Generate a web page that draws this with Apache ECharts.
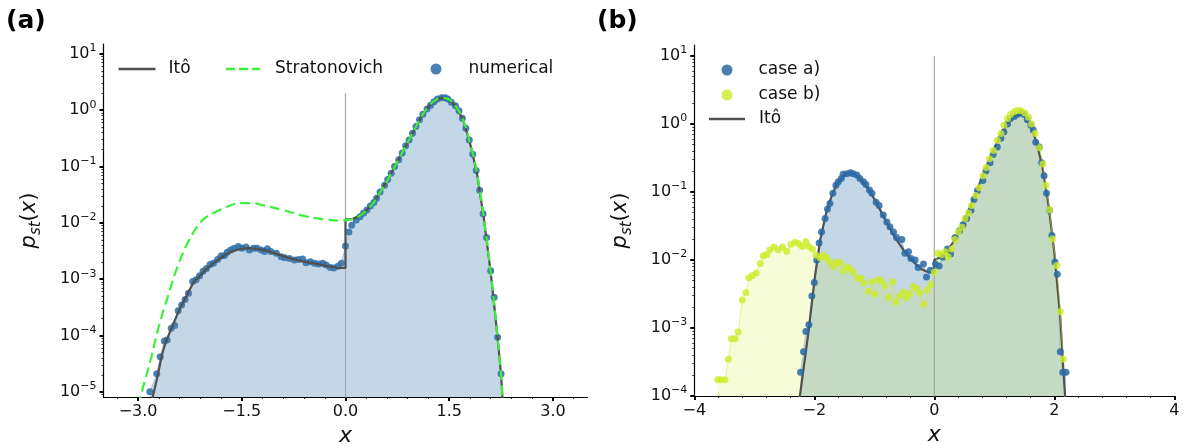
<!DOCTYPE html>
<html>
<head>
<meta charset="utf-8">
<script src="https://cdn.jsdelivr.net/npm/echarts@6/dist/echarts.min.js"></script>
<style>
  html, body { margin: 0; padding: 0; background: #fff; }
  #chart { width: 1184px; height: 444px; }
</style>
</head>
<body>
<div id="chart"></div>
<script>
  // ---- panel (a): numerical histogram points
  const numAX = [-2.83, -2.73, -2.68, -2.62, -2.58, -2.52, -2.47, -2.42, -2.37, -2.32, -2.27, -2.21, -2.16, -2.11, -2.06, -2.01, -1.96, -1.91, -1.85, -1.80,
    -1.75, -1.71, -1.66, -1.61, -1.55, -1.50, -1.44, -1.39, -1.33, -1.28, -1.22, -1.17, -1.13, -1.08, -1.00, -0.93, -0.88, -0.81, -0.74, -0.68,
    -0.62, -0.57, -0.51, -0.45, -0.39, -0.33, -0.28, -0.22, -0.17, -0.11, -0.06, 0.00, 0.05, 0.09, 0.155, 0.21, 0.26, 0.31, 0.36, 0.41,
    0.45, 0.50, 0.565, 0.61, 0.66, 0.71, 0.77, 0.82, 0.87, 0.92, 0.97, 1.02, 1.07, 1.12, 1.18, 1.23, 1.28, 1.33, 1.39, 1.44,
    1.48, 1.53, 1.59, 1.64, 1.69, 1.74, 1.79, 1.84, 1.89, 1.94, 1.99, 2.04, 2.10, 2.15, 2.20, 2.25];
  const numAP = [1.0e-5, 2.1e-5, 4.2e-5, 8.0e-5, 8.3e-5, 1.35e-4, 1.51e-4, 2.75e-4, 3.47e-4, 4.37e-4, 5.62e-4, 9.1e-4, 9.8e-4, 1.15e-3, 1.38e-3, 1.55e-3, 1.82e-3, 1.91e-3, 2.24e-3, 2.57e-3,
    2.63e-3, 3.02e-3, 3.31e-3, 3.55e-3, 3.80e-3, 3.55e-3, 3.72e-3, 3.31e-3, 3.55e-3, 3.55e-3, 3.31e-3, 3.09e-3, 3.47e-3, 3.09e-3, 2.88e-3, 2.51e-3, 2.40e-3, 2.34e-3, 2.19e-3, 2.24e-3,
    2.29e-3, 1.95e-3, 2.04e-3, 1.91e-3, 1.86e-3, 1.91e-3, 1.78e-3, 1.62e-3, 1.58e-3, 1.70e-3, 1.91e-3, 3.89e-3, 6.92e-3, 9.12e-3, 1.12e-2, 1.29e-2, 1.48e-2, 1.70e-2, 2.00e-2, 2.29e-2,
    2.75e-2, 3.55e-2, 4.68e-2, 5.89e-2, 7.59e-2, 0.100, 0.132, 0.174, 0.234, 0.295, 0.389, 0.513, 0.676, 0.851, 1.05, 1.23, 1.41, 1.58, 1.66, 1.66,
    1.58, 1.38, 1.20, 0.977, 0.724, 0.479, 0.295, 0.166, 0.0851, 0.0380, 0.0145, 5.50e-3, 1.41e-3, 4.79e-4, 9.33e-5, 2.09e-5];

  // Itô solution (a)
  const itoAX = [-2.81, -2.73, -2.65, -2.60, -2.50, -2.40, -2.30, -2.20, -2.10, -2.00, -1.90, -1.80, -1.70, -1.60, -1.50, -1.40, -1.30, -1.20, -1.10, -1.00,
    -0.90, -0.80, -0.70, -0.60, -0.50, -0.40, -0.30, -0.20, -0.10, 0, 0, 0.10, 0.20, 0.30, 0.40, 0.50, 0.60, 0.70, 0.80, 0.90,
    1.00, 1.10, 1.20, 1.30, 1.40, 1.50, 1.60, 1.70, 1.80, 1.90, 2.00, 2.10, 2.20, 2.25, 2.28];
  const itoAP = [6.3e-6, 1.62e-5, 4.79e-5, 7.59e-5, 1.51e-4, 2.95e-4, 5.01e-4, 8.71e-4, 1.17e-3, 1.55e-3, 1.95e-3, 2.40e-3, 2.88e-3, 3.24e-3, 3.47e-3, 3.55e-3, 3.47e-3, 3.31e-3, 3.09e-3, 2.82e-3,
    2.57e-3, 2.34e-3, 2.19e-3, 2.04e-3, 1.95e-3, 1.86e-3, 1.74e-3, 1.66e-3, 1.58e-3, 1.58e-3, 1.15e-2, 1.17e-2, 1.32e-2, 1.66e-2, 2.24e-2, 3.47e-2, 5.50e-2, 9.33e-2, 0.158, 0.269,
    0.457, 0.776, 1.15, 1.51, 1.66, 1.55, 1.15, 0.676, 0.263, 0.0776, 0.0123, 1.32e-3, 9.12e-5, 2.0e-5, 5.0e-6];

  // Stratonovich solution (a)
  const strAX = [-3.00, -2.94, -2.82, -2.70, -2.57, -2.43, -2.26, -2.09, -1.99, -1.87, -1.73, -1.51, -1.35, -1.22, -0.91, -0.59, -0.30, -0.06, 0.00,
    0.10, 0.20, 0.30, 0.40, 0.50, 0.60, 0.70, 0.80, 0.90, 1.00, 1.10, 1.20, 1.30, 1.40, 1.50, 1.60, 1.70, 1.80, 1.90, 2.00, 2.10, 2.20, 2.25, 2.28];
  const strAP = [5.6e-6, 1.07e-5, 3.63e-5, 1.45e-4, 4.90e-4, 1.66e-3, 5.01e-3, 1.05e-2, 1.32e-2, 1.58e-2, 1.91e-2, 2.24e-2, 2.24e-2, 2.09e-2, 1.70e-2, 1.32e-2, 1.15e-2, 1.10e-2, 1.12e-2,
    1.17e-2, 1.32e-2, 1.66e-2, 2.24e-2, 3.47e-2, 5.50e-2, 9.33e-2, 0.158, 0.269, 0.457, 0.776, 1.15, 1.51, 1.66, 1.55, 1.15, 0.676, 0.263, 0.0776, 0.0123, 1.32e-3, 9.12e-5, 2.0e-5, 5.0e-6];

  // ---- panel (b): case a)
  const caseAX = [-2.23, -2.18, -2.14, -2.09, -2.04, -2.00, -1.96, -1.92, -1.88, -1.82, -1.78, -1.74, -1.69, -1.64, -1.60, -1.55, -1.52, -1.46, -1.40, -1.35,
    -1.29, -1.24, -1.18, -1.14, -1.08, -1.04, -0.97, -0.92, -0.85, -0.79, -0.74, -0.68, -0.63, -0.54, -0.49, -0.43, -0.39, -0.32, -0.27, -0.18,
    -0.13, -0.07, 0.02, 0.08, 0.14, 0.22, 0.27, 0.345, 0.42, 0.48, 0.54, 0.61, 0.66, 0.72, 0.81, 0.86, 0.93, 0.98, 1.05, 1.11,
    1.16, 1.22, 1.27, 1.33, 1.38, 1.44, 1.50, 1.55, 1.61, 1.65, 1.69, 1.75, 1.79, 1.83, 1.87, 1.92, 1.96, 2.01, 2.05, 2.10, 2.14, 2.195];
  const caseAP = [2.24e-4, 4.47e-4, 8.91e-4, 1.12e-3, 2.95e-3, 4.68e-3, 1.0e-2, 1.78e-2, 2.57e-2, 4.07e-2, 5.62e-2, 6.76e-2, 9.55e-2, 0.126, 0.141, 0.158, 0.182, 0.186, 0.191, 0.186,
    0.178, 0.158, 0.141, 0.129, 0.107, 0.0955, 0.0708, 0.0631, 0.0457, 0.0363, 0.0309, 0.0257, 0.0214, 0.0200, 0.0126, 0.0132, 0.0105, 0.0100, 7.76e-3, 8.71e-3,
    5.62e-3, 7.08e-3, 8.71e-3, 8.13e-3, 0.0110, 0.0145, 0.0123, 0.0214, 0.0269, 0.0331, 0.0407, 0.0537, 0.0776, 0.105, 0.148, 0.204, 0.269, 0.355, 0.457, 0.617,
    0.759, 1.0, 1.20, 1.29, 1.38, 1.45, 1.38, 1.15, 0.955, 0.813, 0.537, 0.457, 0.269, 0.174, 0.0955, 0.0537, 0.0229, 9.33e-3, 6.17e-3, 4.47e-4, 2.24e-4, 2.24e-4];

  // case b)
  const caseBX = [-3.61, -3.56, -3.49, -3.43, -3.38, -3.32, -3.27, -3.20, -3.14, -3.09, -3.03, -2.97, -2.90, -2.85, -2.79, -2.74, -2.67, -2.60, -2.53, -2.46,
    -2.39, -2.32, -2.26, -2.20, -2.14, -2.09, -2.03, -1.97, -1.90, -1.85, -1.79, -1.74, -1.68, -1.63, -1.57, -1.52, -1.46, -1.40, -1.35, -1.27,
    -1.22, -1.17, -1.10, -1.04, -0.99, -0.93, -0.88, -0.82, -0.76, -0.69, -0.64, -0.58, -0.52, -0.46, -0.41, -0.35, -0.29, -0.24, -0.17, -0.12,
    -0.06, 0.00, 0.06, 0.12, 0.18, 0.23, 0.29, 0.345, 0.40, 0.46, 0.51, 0.57, 0.62, 0.69, 0.75, 0.81, 0.86, 0.92, 0.98, 1.05,
    1.11, 1.16, 1.22, 1.27, 1.33, 1.38, 1.44, 1.51, 1.57, 1.62, 1.68, 1.75, 1.81, 1.86, 1.92, 1.97, 2.04, 2.10, 2.15];
  const caseBP = [1.74e-4, 1.74e-4, 1.74e-4, 3.47e-4, 6.92e-4, 6.92e-4, 8.71e-4, 2.57e-3, 3.31e-3, 5.50e-3, 5.89e-3, 6.46e-3, 8.91e-3, 1.15e-2, 1.20e-2, 1.41e-2, 1.55e-2, 1.41e-2, 1.55e-2, 1.35e-2,
    1.70e-2, 1.82e-2, 1.74e-2, 1.58e-2, 1.86e-2, 1.58e-2, 1.45e-2, 1.17e-2, 1.07e-2, 1.17e-2, 1.07e-2, 9.33e-3, 7.94e-3, 9.33e-3, 9.12e-3, 6.92e-3, 7.94e-3, 7.41e-3, 6.61e-3, 5.37e-3,
    5.37e-3, 4.57e-3, 3.47e-3, 4.79e-3, 3.16e-3, 5.13e-3, 5.01e-3, 4.17e-3, 2.82e-3, 4.79e-3, 2.40e-3, 2.95e-3, 3.39e-3, 2.82e-3, 3.24e-3, 4.07e-3, 3.80e-3, 3.24e-3, 2.24e-3, 3.63e-3,
    4.37e-3, 6.61e-3, 0.0126, 0.0120, 0.0132, 0.0112, 0.0145, 0.0200, 0.0257, 0.0302, 0.0407, 0.0490, 0.0631, 0.0891, 0.115, 0.174, 0.229, 0.309, 0.407, 0.575,
    0.724, 0.955, 1.20, 1.38, 1.51, 1.58, 1.58, 1.45, 1.26, 1.0, 0.724, 0.447, 0.257, 0.126, 0.0550, 0.0204, 8.32e-3, 1.74e-3, 3.47e-4];

  // Itô solution (b)
  const itoBX = [-2.26, -2.24, -2.10, -1.99, -1.90, -1.80, -1.70, -1.60, -1.50, -1.40, -1.30, -1.20, -1.10, -1.00, -0.90, -0.80, -0.70, -0.60, -0.50, -0.40,
    -0.30, -0.20, -0.10, 0, 0, 0.10, 0.20, 0.30, 0.40, 0.50, 0.60, 0.70, 0.80, 0.90, 1.00, 1.10, 1.20, 1.30, 1.40, 1.50,
    1.60, 1.70, 1.80, 1.90, 2.00, 2.10, 2.15, 2.18, 2.20];
  const itoBP = [6.3e-5, 1.0e-4, 8.32e-4, 5.62e-3, 2.0e-2, 5.01e-2, 9.33e-2, 0.141, 0.178, 0.191, 0.178, 0.145, 0.110, 0.0794, 0.0537, 0.0363, 0.0251, 0.0182, 0.0135, 0.0105,
    8.51e-3, 7.24e-3, 6.61e-3, 6.46e-3, 1.0e-2, 0.0110, 0.0135, 0.0174, 0.0251, 0.0380, 0.0603, 0.1, 0.166, 0.275, 0.437, 0.676, 0.955, 1.26, 1.41, 1.32,
    0.955, 0.550, 0.240, 0.0676, 0.0132, 1.41e-3, 2.5e-4, 1.0e-4, 5.0e-5];

  // vertical reference lines at x = 0
  const zeroLineA = [[0, 1e-6], [0, 2.0]];
  const zeroLineB = [[0, 1e-5], [0, 10]];

  // ticks
  const ticksAX = [-3, -1.5, 0, 1.5, 3];
  const minorAX = [-3.3, -2.7, -2.4, -2.1, -1.8, -1.2, -0.9, -0.6, -0.3, 0.3, 0.6, 0.9, 1.2, 1.8, 2.1, 2.4, 2.7, 3.3];
  const decadesA = [1e-5, 1e-4, 1e-3, 1e-2, 1e-1, 1, 10];
  const decadesB = [1e-4, 1e-3, 1e-2, 1e-1, 1, 10];

  const FONT = 'DejaVu Sans';
  const INK = '#111';

  const pairs = (xs, ys) => xs.map((x, i) => [x, ys[i]]);

  const minorLog = (decades, lo, hi) => {
    const out = [];
    [decades[0] / 10].concat(decades).forEach(d => {
      for (let m = 2; m <= 9; m++) {
        const v = m * d;
        if (v > lo && v < hi) out.push(v);
      }
    });
    return out;
  };

  const supLabel = v => {
    const lg = Math.log10(v);
    const e = Math.round(lg);
    if (Math.abs(lg - e) > 0.01) return '';
    return '{b|10}{s|' + (e < 0 ? '\u2212' + (-e) : String(e)) + '}';
  };

  const tickRich = {
    b: { fontFamily: FONT, fontSize: 16, color: INK, lineHeight: 22 },
    s: { fontFamily: FONT, fontSize: 11, color: INK, lineHeight: 12, verticalAlign: 'top' },
  };

  const yName = '{i|p}{u|st}{n|(}{i|x}{n|)}';
  const yNameRich = {
    i: { fontFamily: FONT, fontStyle: 'italic', fontSize: 21, lineHeight: 28, color: INK },
    u: { fontFamily: FONT, fontStyle: 'italic', fontSize: 15, lineHeight: 18, verticalAlign: 'bottom', color: INK },
    n: { fontFamily: FONT, fontSize: 21, lineHeight: 28, color: INK },
  };

  const yMinA = 8.1e-6, yMaxA = 15;
  const yMinB = 1e-4, yMaxB = 14.5;

  const mainY = (grid, lo, hi, decades) => ({
    gridIndex: grid,
    type: 'log',
    logBase: 10,
    min: lo,
    max: hi,
    position: 'left',
    name: yName,
    nameLocation: 'middle',
    nameRotate: 90,
    nameGap: 60,
    nameTextStyle: { rich: yNameRich },
    axisLine: { show: true, onZero: false, lineStyle: { color: '#000', width: 1.2 } },
    axisTick: { show: true, customValues: decades, length: 4, lineStyle: { color: '#000', width: 2 } },
    axisLabel: { customValues: decades, formatter: supLabel, rich: tickRich, margin: 7 },
    splitLine: { show: false },
  });

  const minorY = (grid, lo, hi, decades) => ({
    gridIndex: grid,
    type: 'log',
    logBase: 10,
    min: lo,
    max: hi,
    position: 'left',
    axisLine: { show: false, onZero: false },
    axisTick: { show: true, customValues: minorLog(decades, lo, hi), length: 2, lineStyle: { color: '#000', width: 0.8 } },
    axisLabel: { show: false },
    splitLine: { show: false },
  });

  const xName = {
    name: 'x',
    nameLocation: 'middle',
    nameGap: 25,
    nameTextStyle: { fontFamily: FONT, fontStyle: 'italic', fontSize: 22, color: INK },
  };

  // legend boxes are laid out by their text height (~15px), so top = centre - 7.5
  const mkLegend = (name, icon, left, w, h, centerY, pad) => ({
    data: [{ name: name, icon: icon }],
    left: left,
    top: centerY - 7.5,
    padding: 0,
    itemWidth: w,
    itemHeight: h,
    selectedMode: false,
    itemStyle: { borderWidth: 0 },
    textStyle: { fontFamily: FONT, fontSize: 17, color: INK, padding: [0, 0, 0, pad] },
  });

  const dashIcon = 'path://M0,0h9v2.5h-9z M13,0h9v2.5h-9z M26,0h8v2.5h-8z';

  const option = {
    animation: false,
    backgroundColor: '#fff',
    title: [
      { text: '(a)', left: 6, top: 9, padding: 0, textStyle: { fontFamily: FONT, fontWeight: 'bold', fontSize: 25, color: '#000' } },
      { text: '(b)', left: 597, top: 9, padding: 0, textStyle: { fontFamily: FONT, fontWeight: 'bold', fontSize: 25, color: '#000' } },
    ],
    grid: [
      { left: 103.5, top: 44, width: 484, height: 353, containLabel: false, outerBoundsMode: 'none' },
      { left: 694.3, top: 45, width: 480, height: 351, containLabel: false, outerBoundsMode: 'none' },
    ],
    legend: [
      mkLegend('Itô', 'rect', 118.5, 37, 2.5, 68, 8),
      mkLegend('Stratonovich', dashIcon, 226, 34, 2.5, 68, 10),
      mkLegend('numerical', 'circle', 430.5, 11, 11, 68, 22),
      mkLegend('case a)', 'circle', 721.5, 11, 11, 69, 21),
      mkLegend('case b)', 'circle', 721.5, 11, 11, 94, 21),
      mkLegend('Itô', 'rect', 709, 36, 2.5, 118, 9),
    ],
    xAxis: [
      Object.assign({
        gridIndex: 0,
        type: 'value',
        min: -3.5,
        max: 3.5,
        position: 'bottom',
        axisLine: { show: true, onZero: false, lineStyle: { color: '#000', width: 1.2 } },
        axisTick: { show: true, customValues: ticksAX, length: 4, lineStyle: { color: '#000', width: 2 } },
        axisLabel: {
          customValues: ticksAX,
          formatter: v => (v < 0 ? '\u2212' : '') + Math.abs(v).toFixed(1),
          fontFamily: FONT, fontSize: 16, color: INK, margin: 7,
        },
        splitLine: { show: false },
      }, xName),
      {
        gridIndex: 0,
        type: 'value',
        min: -3.5,
        max: 3.5,
        position: 'bottom',
        axisLine: { show: false, onZero: false },
        axisTick: { show: true, customValues: minorAX, length: 2, lineStyle: { color: '#000', width: 0.8 } },
        axisLabel: { show: false },
        splitLine: { show: false },
      },
      Object.assign({
        gridIndex: 1,
        type: 'value',
        min: -4,
        max: 4,
        interval: 2,
        position: 'bottom',
        axisLine: { show: true, onZero: false, lineStyle: { color: '#000', width: 1.2 } },
        axisTick: { show: true, length: 4, lineStyle: { color: '#000', width: 2 } },
        minorTick: { show: true, splitNumber: 5, length: 2, lineStyle: { color: '#000', width: 0.8 } },
        axisLabel: {
          formatter: v => (v < 0 ? '\u2212' : '') + Math.abs(v),
          fontFamily: FONT, fontSize: 16, color: INK, margin: 7,
        },
        splitLine: { show: false },
        minorSplitLine: { show: false },
      }, xName),
    ],
    yAxis: [
      mainY(0, yMinA, yMaxA, decadesA),
      minorY(0, yMinA, yMaxA, decadesA),
      mainY(1, yMinB, yMaxB, decadesB),
      minorY(1, yMinB, yMaxB, decadesB),
    ],
    series: [
      // ---- panel (a)
      {
        name: 'zeroA', type: 'line', xAxisIndex: 0, yAxisIndex: 0, data: zeroLineA,
        symbol: 'none', silent: true, lineStyle: { color: '#a8a8a8', width: 1.2 },
      },
      {
        name: 'numerical fill', type: 'line', xAxisIndex: 0, yAxisIndex: 0, data: pairs(numAX, numAP),
        symbol: 'none', silent: true,
        lineStyle: { color: 'rgba(70,130,180,0.35)', width: 1 },
        areaStyle: { color: 'rgba(70,130,180,0.32)', opacity: 1, origin: 'start' },
      },
      {
        name: 'Itô', type: 'line', xAxisIndex: 0, yAxisIndex: 0, data: pairs(itoAX, itoAP),
        symbol: 'none', color: '#505050', lineStyle: { color: '#505050', width: 2.2 },
      },
      {
        name: 'Stratonovich', type: 'line', xAxisIndex: 0, yAxisIndex: 0, data: pairs(strAX, strAP),
        symbol: 'none', smooth: 0.45, color: '#3cf03c', lineStyle: { color: '#3cf03c', width: 2.2, type: [10, 5] },
      },
      {
        name: 'numerical', type: 'scatter', xAxisIndex: 0, yAxisIndex: 0, data: pairs(numAX, numAP),
        symbolSize: 7, itemStyle: { color: '#2a6aa3', opacity: 0.85 },
      },
      // ---- panel (b)
      {
        name: 'zeroB', type: 'line', xAxisIndex: 2, yAxisIndex: 2, data: zeroLineB,
        symbol: 'none', silent: true, lineStyle: { color: '#a8a8a8', width: 1.2 },
      },
      {
        name: 'case a)', type: 'line', xAxisIndex: 2, yAxisIndex: 2, data: pairs(caseAX, caseAP),
        symbol: 'circle', symbolSize: 7, showAllSymbol: true,
        itemStyle: { color: '#2a6aa3', opacity: 0.85 },
        lineStyle: { color: 'rgba(70,130,180,0.35)', width: 1 },
        areaStyle: { color: 'rgba(70,130,180,0.32)', opacity: 1, origin: 'start' },
      },
      {
        name: 'Itô', type: 'line', xAxisIndex: 2, yAxisIndex: 2, data: pairs(itoBX, itoBP),
        symbol: 'none', color: '#505050', lineStyle: { color: '#505050', width: 2.2 },
      },
      {
        name: 'case b)', type: 'line', xAxisIndex: 2, yAxisIndex: 2, data: pairs(caseBX, caseBP),
        symbol: 'circle', symbolSize: 7, showAllSymbol: true,
        itemStyle: { color: 'rgba(205,235,40,0.8)' },
        lineStyle: { color: 'rgba(205,235,40,0.5)', width: 1 },
        areaStyle: { color: 'rgba(205,235,40,0.18)', opacity: 1, origin: 'start' },
      },
    ],
  };

  const chart = echarts.init(document.getElementById('chart'));
  chart.setOption(option);
</script>
</body>
</html>
